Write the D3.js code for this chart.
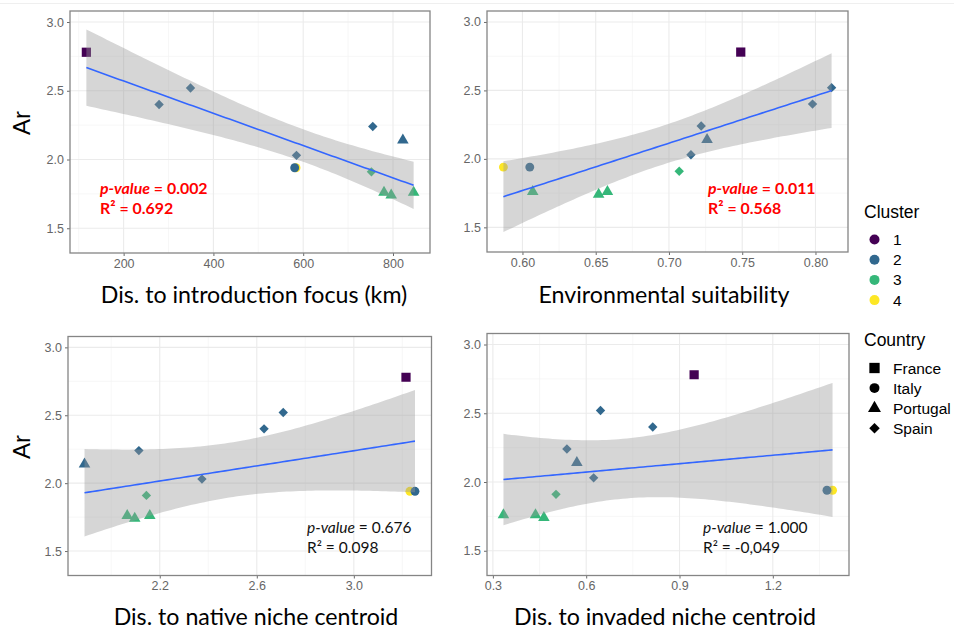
<!DOCTYPE html>
<html lang="en">
<head>
<meta charset="UTF-8">
<title>Allelic richness</title>
<style>
  body { margin: 0; background: #fff; }
  svg { display: block; }
</style>
</head>
<body>
<div id="chart"></div>
<script src="https://cdn.jsdelivr.net/npm/d3@7"></script>
<script>
// one entry per sampled population
const country     = ["France", "Spain", "Spain", "Spain", "Italy", "Italy", "Spain", "Portugal", "Spain", "Portugal", "Portugal", "Portugal"];
const cluster     = ["1", "2", "2", "2", "4", "2", "2", "2", "3", "3", "3", "3"];
const ar          = [2.78, 2.40, 2.52, 2.03, 1.94, 1.94, 2.24, 2.14, 1.91, 1.76, 1.74, 1.76];
const distFocus   = [117, 279, 349, 585, 584, 581, 755, 822, 752, 780, 796, 846];
const envSuit     = [0.749, 0.798, 0.811, 0.715, 0.587, 0.605, 0.722, 0.726, 0.707, 0.607, 0.652, 0.658];
const distNative  = [3.215, 2.630, 2.709, 2.374, 3.231, 3.252, 2.114, 1.890, 2.145, 2.066, 2.097, 2.159];
const distInvaded = [0.947, 0.814, 0.646, 0.624, 1.392, 1.374, 0.538, 0.570, 0.503, 0.334, 0.464, 0.437];

const clusterLevels = ["1", "2", "3", "4"];
const clusterColors = ["#440154", "#31688E", "#35B779", "#FDE725"];
const countryLevels = ["France", "Italy", "Portugal", "Spain"];

const arTicks      = [1.5, 2.0, 2.5, 3.0];
const arMinor      = [1.75, 2.25, 2.75];
const focusTicks   = [200, 400, 600, 800];
const focusMinor   = [100, 300, 500, 700];
const suitTicks    = [0.60, 0.65, 0.70, 0.75, 0.80];
const suitMinor    = [0.625, 0.675, 0.725, 0.775];
const nativeTicks  = [2.2, 2.6, 3.0];
const nativeMinor  = [2.0, 2.4, 2.8, 3.2];
const invadedTicks = [0.3, 0.6, 0.9, 1.2];
const invadedMinor = [0.45, 0.75, 1.05, 1.35];

const xTitles  = ["Dis. to introduction focus (km)", "Environmental suitability", "Dis. to native niche centroid", "Dis. to invaded niche centroid"];
const pValues  = ["0.002", "0.011", "0.676", "1.000"];
const r2Values = ["0.692", "0.568", "0.098", "-0,049"];
const signif   = [true, true, false, false];

const width = 954, height = 631;
const arDomain = [1.32, 3.08];

const panels = [
  { xs: distFocus,   ticks: focusTicks,   minor: focusMinor,   fmt: d3.format("d"),   box: [70, 11, 430, 253],        label: [100, 194], titleY: 303, titleX: 254 },
  { xs: envSuit,     ticks: suitTicks,    minor: suitMinor,    fmt: d3.format(".2f"), box: [487, 11, 848, 252],       label: [708, 194], titleY: 303, titleX: 664 },
  { xs: distNative,  ticks: nativeTicks,  minor: nativeMinor,  fmt: d3.format(".1f"), box: [68, 336.5, 431.5, 575.5], label: [307, 533], titleY: 625, titleX: 256 },
  { xs: distInvaded, ticks: invadedTicks, minor: invadedMinor, fmt: d3.format(".1f"), box: [487, 333.5, 849, 575.5],  label: [703, 533], titleY: 625, titleX: 665 }
];

const colour = d3.scaleOrdinal(clusterLevels, clusterColors);

function shapePath(c, k) {
  k = k || 1;
  if (c === "France")   return d3.symbol(d3.symbolSquare, 85 * k)();
  if (c === "Italy")    return d3.symbol(d3.symbolCircle, 62 * k)();
  if (c === "Portugal") return d3.symbol(d3.symbolTriangle, 58 * k)();
  return d3.symbol(d3.symbolSquare, 44 * k)();
}
function shapeRot(c) { return c === "Spain" ? 45 : 0; }

// ordinary least squares with a 95% confidence band (t, df = n - 2)
function fitBand(xs, ys) {
  const n = xs.length, mx = d3.mean(xs), my = d3.mean(ys);
  let sxx = 0, sxy = 0;
  xs.forEach((x, i) => { sxx += (x - mx) ** 2; sxy += (x - mx) * (ys[i] - my); });
  const b = sxy / sxx, a = my - b * mx;
  let sse = 0;
  xs.forEach((x, i) => { sse += (ys[i] - a - b * x) ** 2; });
  const s = Math.sqrt(sse / (n - 2));
  const t = 2.228; // qt(0.975, 10)
  const [lo, hi] = d3.extent(xs);
  return d3.range(81).map(j => {
    const x = lo + (hi - lo) * j / 80;
    const f = a + b * x;
    const se = s * Math.sqrt(1 / n + (x - mx) ** 2 / sxx);
    return { x, f, lo: f - t * se, hi: f + t * se };
  });
}

const svg = d3.select("#chart").append("svg")
  .attr("width", width).attr("height", height)
  .style("font-family", "'Liberation Sans', Arial, sans-serif");

svg.append("rect").attr("x", 0).attr("y", 3).attr("width", width).attr("height", 1).attr("fill", "#efefef");

panels.forEach((p, pi) => {
  const [x0, y0, x1, y1] = p.box;
  const ext = d3.extent(p.xs), pad = (ext[1] - ext[0]) * 0.05;
  const x = d3.scaleLinear().domain([ext[0] - pad, ext[1] + pad]).range([x0, x1]);
  const y = d3.scaleLinear().domain(arDomain).range([y1, y0]);
  const g = svg.append("g");

  const clipId = "clip" + pi;
  svg.append("clipPath").attr("id", clipId)
    .append("rect").attr("x", x0).attr("y", y0).attr("width", x1 - x0).attr("height", y1 - y0);

  // grid
  g.selectAll(".vmin").data(p.minor).join("line")
    .attr("x1", d => x(d)).attr("x2", d => x(d)).attr("y1", y0).attr("y2", y1)
    .attr("stroke", "#f3f3f3").attr("stroke-width", 0.7);
  g.selectAll(".hmin").data(arMinor).join("line")
    .attr("x1", x0).attr("x2", x1).attr("y1", d => y(d)).attr("y2", d => y(d))
    .attr("stroke", "#f3f3f3").attr("stroke-width", 0.7);
  g.append("g").selectAll("line").data(p.ticks).join("line")
    .attr("x1", d => x(d)).attr("x2", d => x(d)).attr("y1", y0).attr("y2", y1)
    .attr("stroke", "#ebebeb").attr("stroke-width", 1.1);
  g.append("g").selectAll("line").data(arTicks).join("line")
    .attr("x1", x0).attr("x2", x1).attr("y1", d => y(d)).attr("y2", d => y(d))
    .attr("stroke", "#ebebeb").attr("stroke-width", 1.1);

  // points, then the smoother band over them
  const idx = d3.range(ar.length);
  const plot = g.append("g").attr("clip-path", `url(#${clipId})`);
  plot.selectAll("path.pt").data(idx).join("path")
    .attr("class", "pt")
    .attr("d", i => shapePath(country[i]))
    .attr("transform", i => `translate(${x(p.xs[i])},${y(ar[i])}) rotate(${shapeRot(country[i])})`)
    .attr("fill", i => colour(cluster[i]));

  const band = fitBand(p.xs, ar);
  plot.append("path").datum(band)
    .attr("d", d3.area().x(d => x(d.x)).y0(d => y(d.lo)).y1(d => y(d.hi)))
    .attr("fill", "#999999").attr("fill-opacity", 0.4);
  plot.append("path").datum(band)
    .attr("d", d3.line().x(d => x(d.x)).y(d => y(d.f)))
    .attr("fill", "none").attr("stroke", "#3366FF").attr("stroke-width", 1.6);

  // axes
  const ax = g.append("g").attr("transform", `translate(0,${y1})`)
    .call(d3.axisBottom(x).tickValues(p.ticks).tickFormat(p.fmt).tickSize(3).tickPadding(3));
  const ay = g.append("g").attr("transform", `translate(${x0},0)`)
    .call(d3.axisLeft(y).tickValues(arTicks).tickFormat(d3.format(".1f")).tickSize(3).tickPadding(3));
  [ax, ay].forEach(a => {
    a.select(".domain").remove();
    a.selectAll("line").attr("stroke", "#6a6a6a");
    a.selectAll("text").attr("fill", "#666").style("font-size", "12.5px")
      .style("font-family", "'Liberation Sans', Arial, sans-serif");
  });

  g.append("rect").attr("x", x0).attr("y", y0).attr("width", x1 - x0).attr("height", y1 - y0)
    .attr("fill", "none").attr("stroke", "#858585").attr("stroke-width", 1.3);

  // axis titles
  g.append("text").attr("x", p.titleX).attr("y", p.titleY)
    .attr("text-anchor", "middle").style("font-family", "Lato, sans-serif").style("font-size", "23.2px")
    .attr("fill", "#000").text(xTitles[pi]);
  if (pi % 2 === 0) {
    g.append("text").attr("transform", `translate(30,${(y0 + y1) / 2 - 9}) rotate(-90)`)
      .attr("text-anchor", "middle").style("font-size", "24px").attr("fill", "#000").text("Ar");
  }

  // test statistics
  const col = signif[pi] ? "#ff0000" : "#111";
  const wt = signif[pi] ? "bold" : "normal";
  const fs = signif[pi] ? "15.9px" : "15.5px";
  const t1 = g.append("text").attr("x", p.label[0]).attr("y", p.label[1])
    .style("font-family", "Lato, sans-serif").style("font-size", fs).style("font-weight", wt).attr("fill", col);
  t1.append("tspan").style("font-style", "italic").text("p-value");
  t1.append("tspan").text(" = " + pValues[pi]);
  g.append("text").attr("x", p.label[0]).attr("y", p.label[1] + 20)
    .style("font-family", "Lato, sans-serif").style("font-size", fs).style("font-weight", wt).attr("fill", col)
    .text("R\u00B2 = " + r2Values[pi]);
});

// legends
const lg = svg.append("g").style("font-family", "'Liberation Sans', Arial, sans-serif");
lg.append("text").attr("x", 864).attr("y", 218).style("font-size", "17.5px").text("Cluster");
clusterLevels.forEach((c, i) => {
  const cy = 239.5 + i * 20.2;
  lg.append("circle").attr("cx", 874.5).attr("cy", cy).attr("r", 5).attr("fill", colour(c));
  lg.append("text").attr("x", 893).attr("y", cy + 5.5).style("font-size", "15.5px").text(c);
});
lg.append("text").attr("x", 864).attr("y", 345.5).style("font-size", "17.5px").text("Country");
countryLevels.forEach((c, i) => {
  const cy = 368 + i * 20.1;
  lg.append("path").attr("d", shapePath(c, 1.25))
    .attr("transform", `translate(874.5,${cy}) rotate(${shapeRot(c)})`).attr("fill", "#000");
  lg.append("text").attr("x", 893).attr("y", cy + 5.5).style("font-size", "15.5px").text(c);
});
</script>
</body>
</html>
